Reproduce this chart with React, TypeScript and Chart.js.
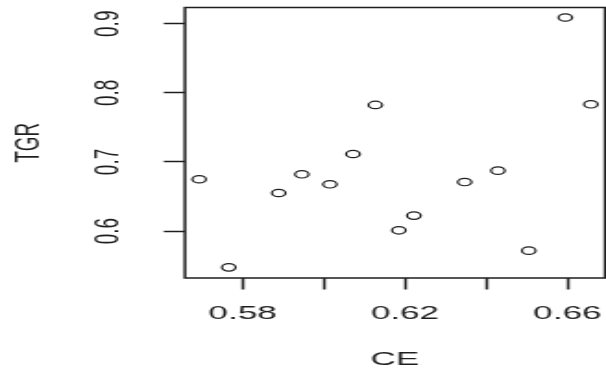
import React, { useEffect, useRef } from "react";
import { Chart, registerables } from "chart.js";

Chart.register(...registerables);

// Data (CE vs TGR)
const ceValues = [0.5693, 0.5766, 0.5889, 0.5946, 0.6015, 0.6072, 0.6127, 0.6185, 0.6222, 0.6347, 0.6429, 0.6505, 0.6595, 0.6658];
const tgrValues = [0.6749, 0.5474, 0.655, 0.6821, 0.6676, 0.7115, 0.7825, 0.601, 0.6223, 0.6709, 0.6874, 0.5716, 0.909, 0.7834];

const xTickValues = [0.58, 0.6, 0.62, 0.64, 0.66];
const xTickLabels = ["0.58", "", "0.62", "", "0.66"];
const yTickValues = [0.6, 0.7, 0.8, 0.9];
const yTickLabels = ["0.6", "0.7", "0.8", "0.9"];

const xTitle = "CE";
const yTitle = "TGR";

const FONT = '"Liberation Sans", Arial, Helvetica, sans-serif';
const INK = "#1e1e1e";

const NATIVE_W = 328;
const H = 377;

const boxPlugin = {
  id: "plotBox",
  beforeDatasetsDraw(chart: any) {
    const { ctx, chartArea: a } = chart;
    ctx.save();
    ctx.strokeStyle = INK;
    ctx.lineWidth = 1.5;
    ctx.strokeRect(a.left, a.top, a.right - a.left, a.bottom - a.top);
    ctx.restore();
  },
};

const zeroPad = (scale: any) => {
  scale.paddingLeft = 0;
  scale.paddingRight = 0;
  scale.paddingTop = 0;
  scale.paddingBottom = 0;
};

export default function App() {
  const ref = useRef<HTMLCanvasElement | null>(null);

  useEffect(() => {
    if (!ref.current) return;
    const chart = new Chart(ref.current, {
      type: "scatter",
      data: {
        datasets: [
          {
            data: ceValues.map((x, i) => ({ x, y: tgrValues[i] })),
            pointStyle: "circle",
            pointRadius: 3.7,
            pointBorderWidth: 1.2,
            pointBorderColor: INK,
            pointBackgroundColor: "rgba(0,0,0,0)",
            showLine: false,
          },
        ],
      },
      plugins: [boxPlugin],
      options: {
        responsive: false,
        animation: false,
        devicePixelRatio: 1,
        layout: { autoPadding: false, padding: { left: 0, right: 0.5, top: 7.5, bottom: 0 } },
        plugins: {
          legend: { display: false },
          tooltip: { enabled: false },
        },
        scales: {
          x: {
            type: "linear",
            min: 0.5658,
            max: 0.6693,
            afterBuildTicks: (scale: any) => {
              scale.ticks = xTickValues.map((v) => ({ value: v }));
            },
            afterFit: (scale: any) => {
              scale.height = 99;
              zeroPad(scale);
            },
            border: { display: false },
            grid: {
              display: true,
              drawOnChartArea: false,
              drawTicks: true,
              tickLength: 11.5,
              tickColor: INK,
              tickWidth: 1.5,
            },
            ticks: {
              autoSkip: false,
              maxRotation: 0,
              minRotation: 0,
              padding: 12.9,
              color: INK,
              font: { family: FONT, size: 19 },
              callback: (v: any) => {
                const i = xTickValues.findIndex((t) => Math.abs(t - Number(v)) < 1e-9);
                return i >= 0 ? xTickLabels[i] : "";
              },
            },
            title: {
              display: true,
              text: xTitle,
              color: INK,
              font: { family: FONT, size: 19 },
              padding: { top: 0, bottom: 5.6 },
            },
          },
          y: {
            type: "linear",
            min: 0.532,
            max: 0.9235,
            afterBuildTicks: (scale: any) => {
              scale.ticks = yTickValues.map((v) => ({ value: v }));
            },
            afterFit: (scale: any) => {
              scale.width = 100.1;
              zeroPad(scale);
            },
            border: { display: false },
            grid: {
              display: true,
              drawOnChartArea: false,
              drawTicks: true,
              tickLength: 11.5,
              tickColor: INK,
              tickWidth: 1.5,
            },
            ticks: {
              autoSkip: false,
              minRotation: 90,
              maxRotation: 90,
              crossAlign: "center",
              padding: 16.8,
              color: INK,
              font: { family: FONT, size: 19 },
              callback: (v: any) => {
                const i = yTickValues.findIndex((t) => Math.abs(t - Number(v)) < 1e-9);
                return i >= 0 ? yTickLabels[i] : "";
              },
            },
            title: {
              display: true,
              text: yTitle,
              color: INK,
              font: { family: FONT, size: 19 },
              padding: { top: 4.8, bottom: 0 },
            },
          },
        },
      },
    } as any);
    return () => chart.destroy();
  }, []);

  return (
    <div style={{ position: "absolute", left: 0, top: 0, width: 606, height: H, background: "#fff" }}>
      <canvas
        ref={ref}
        width={NATIVE_W}
        height={H}
        style={{ width: "606px", height: `${H}px`, display: "block" }}
      />
    </div>
  );
}
